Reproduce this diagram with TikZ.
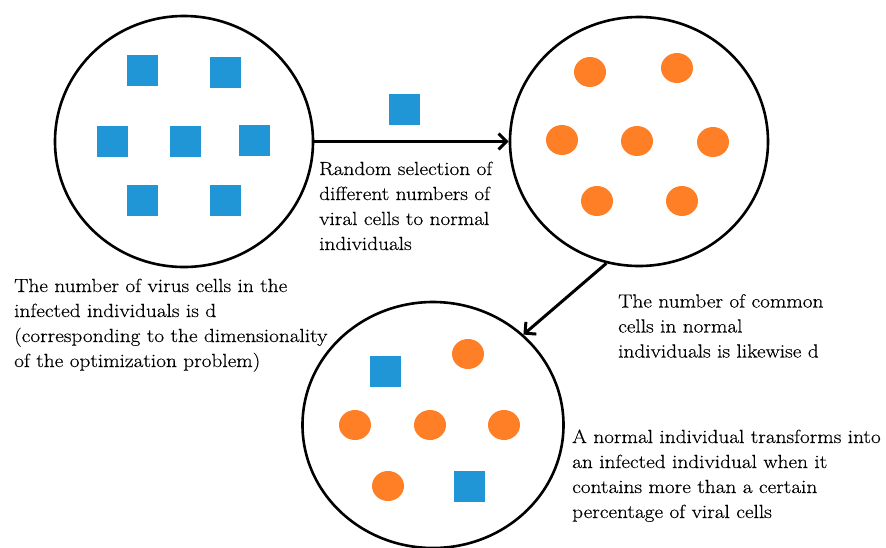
\documentclass[tikz,border=0pt]{standalone}
\usepackage{fontspec}
\setmainfont{Latin Modern Roman}[FakeStretch=1.12,FakeBold=0.4]
\usetikzlibrary{shapes.geometric,arrows.meta}
\definecolor{virusblue}{RGB}{33,150,214}
\definecolor{cellorange}{RGB}{255,127,39}
\begin{document}
\begin{tikzpicture}[x=1pt,y=-1pt,
  individual/.style={draw=black,line width=2.6pt,ellipse,inner sep=0pt},
  virus/.style={fill=virusblue,draw=none,minimum size=31pt,inner sep=0pt},
  cell/.style={fill=cellorange,draw=none,ellipse,minimum width=32pt,minimum height=30pt,inner sep=0pt},
  link/.style={line width=3pt,-{Straight Barb[length=8pt,width=16pt,line width=3pt]}},
  caption/.style={align=left,anchor=base west,inner sep=0pt,font=\fontsize{19}{25}\selectfont}]
\useasboundingbox (0,0) rectangle (886,547);
% individuals
\node[individual,minimum width=258pt,minimum height=251pt] (inf) at (184,141.5) {};
\node[individual,minimum width=258pt,minimum height=249pt] (norm) at (639,141.5) {};
\node[individual,minimum width=261pt,minimum height=246pt] (mix) at (433,425) {};
% virus cells in infected individual
\node[virus] (v1) at (142,70) {};
\node[virus] (v2) at (225,72) {};
\node[virus] (v3) at (112,141) {};
\node[virus] (v4) at (185,141) {};
\node[virus] (v5) at (254,140) {};
\node[virus] (v6) at (142,200) {};
\node[virus] (v7) at (225,200) {};
% travelling virus
\node[virus] (vt) at (404,109) {};
% normal cells
\node[cell] (c1) at (590,72) {};
\node[cell] (c2) at (677,68) {};
\node[cell] (c3) at (562,140) {};
\node[cell] (c4) at (637,141) {};
\node[cell] (c5) at (713,142) {};
\node[cell] (c6) at (597,201) {};
\node[cell] (c7) at (682,201) {};
% mixed individual
\node[virus] (m1) at (385,371) {};
\node[cell] (m2) at (468,354) {};
\node[cell] (m3) at (355,425) {};
\node[cell] (m4) at (430,425) {};
\node[cell] (m5) at (504,425) {};
\node[cell] (m6) at (388,486) {};
\node[virus] (m7) at (469,486) {};
% connectors
\draw[link] (inf.east) -- (norm.west);
\draw[link] (norm.-105) -- (mix.45);
% captions (anchored at the baseline of the last line)
\node[caption] (t1) at (319,250) {Random selection of\\different numbers of\\viral cells to normal\\individuals};
\node[caption] (t2) at (14,367) {The number of virus cells in the\\infected individuals is d\\(corresponding to the dimensionality\\of the optimization problem)};
\node[caption] (t3) at (618,357.5) {The number of common\\cells in normal\\individuals is likewise d};
\node[caption] (t4) at (572,518) {A normal individual transforms into\\an infected individual when it\\contains more than a certain\\percentage of viral cells};
\end{tikzpicture}
\end{document}
